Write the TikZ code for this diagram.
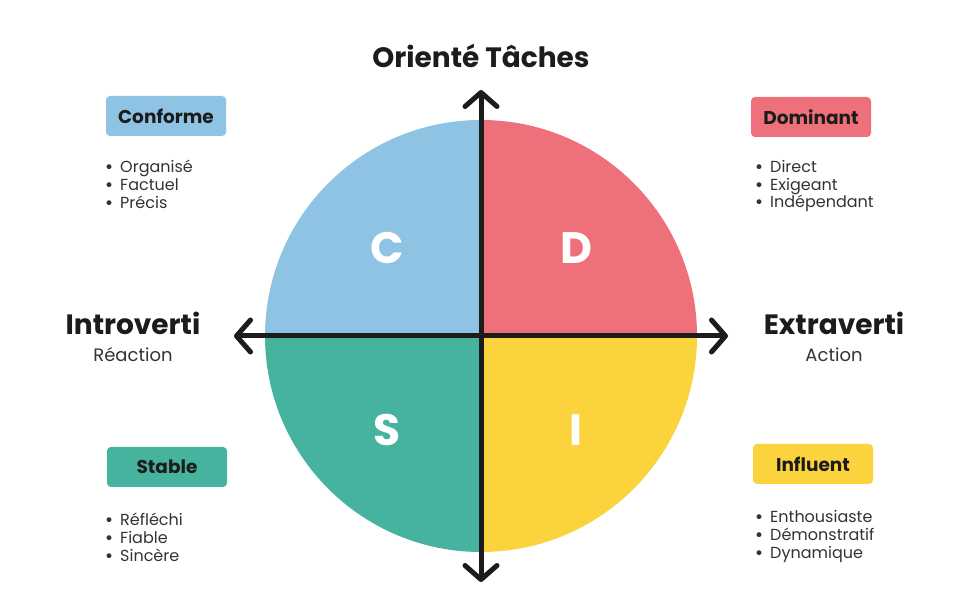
\documentclass[tikz,border=0pt]{standalone}
\usepackage{fontspec}
\setmainfont{Poppins}
\usetikzlibrary{arrows.meta,positioning}

\definecolor{cblue}{HTML}{8EC3E3}
\definecolor{cred}{HTML}{EE707A}
\definecolor{cteal}{HTML}{46B39E}
\definecolor{cyellow}{HTML}{FBD33C}
\definecolor{ink}{HTML}{1C1C1C}
\definecolor{txt}{HTML}{333333}
\newcommand{\pt}{{\bfseries•}\hspace{7pt}}

\begin{document}
\begin{tikzpicture}[x=1pt,y=1pt,
  tag/.style={rounded corners=4pt,minimum width=120pt,minimum height=40pt,inner sep=0pt,
    font=\fontsize{18.5}{22}\selectfont\bfseries,text=ink},
  lst/.style={anchor=west,align=left,inner sep=0pt,font=\fontsize{16}{18}\selectfont,text=txt},
  big/.style={font=\fontsize{28}{32}\selectfont\bfseries,text=ink},
  sub/.style={font=\fontsize{18}{22}\selectfont,text=txt},
  letter/.style={font=\fontsize{44}{48}\selectfont\bfseries,text=white},
  axis/.style={line width=5pt,ink,{Straight Barb[length=14pt,width=32pt,round]}-{Straight Barb[length=14pt,width=32pt,round]}}]
\useasboundingbox (0,0) rectangle (960,604);
\fill[white] (0,0) rectangle (960,604);

% quarters
\coordinate (o) at (481,268);
\fill[cblue] (o) -- ++(180:216) arc[start angle=180,end angle=90,radius=216] -- cycle;
\fill[cred] (o) -- ++(90:216) arc[start angle=90,end angle=0,radius=216] -- cycle;
\fill[cyellow] (o) -- ++(0:216) arc[start angle=0,end angle=-90,radius=216] -- cycle;
\fill[cteal] (o) -- ++(-90:216) arc[start angle=-90,end angle=-180,radius=216] -- cycle;

\node[letter] (lc) at (387,356) {C};
\node[letter] (ld) at (576,356) {D};
\node[letter] (ls) at (387,174) {S};
\node[letter] (li) at (576,174) {I};

% axes
\coordinate (up) at (481,514);
\coordinate (down) at (481,22);
\coordinate (west) at (234,268);
\coordinate (east) at (728,268);
\draw[axis] (down) -- (up);
\draw[axis] (west) -- (east);

\node[big] (t) at (481,548) {Orienté Tâches};
\node[big] (intro) at (133,281) {Introverti};
\node[sub] (rea) at (133,249) {Réaction};
\node[big] (extra) at (834,281) {Extraverti};
\node[sub] (act) at (834,249) {Action};

% profiles
\node[tag,fill=cblue] (conf) at (166,488) {Conforme};
\node[lst] (confl) at (105,420) {\pt Organisé\\\pt Factuel\\\pt Précis};
\node[tag,fill=cred] (dom) at (811,487) {Dominant};
\node[lst] (doml) at (755,418) {\pt Direct\\\pt Exigeant\\\pt Indépendant};
\node[tag,fill=cteal] (stab) at (167,137) {Stable};
\node[lst] (stabl) at (105,67) {\pt Réfléchi\\\pt Fiable\\\pt Sincère};
\node[tag,fill=cyellow] (infl) at (813,140) {Influent};
\node[lst] (infll) at (755,68) {\pt Enthousiaste\\\pt Démonstratif\\\pt Dynamique};
\end{tikzpicture}
\end{document}
